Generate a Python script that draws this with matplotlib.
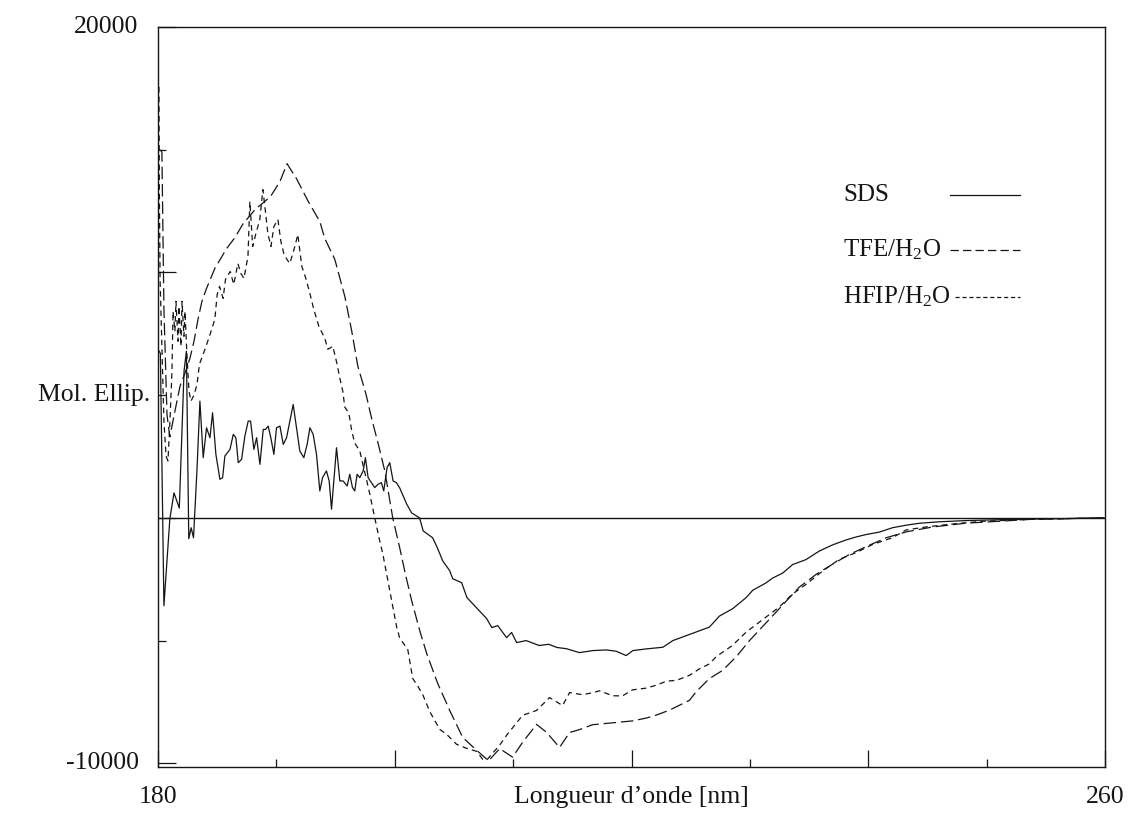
import matplotlib
matplotlib.use('Agg')
import matplotlib.pyplot as plt
from matplotlib.lines import Line2D

plt.rcParams['font.family'] = ['Liberation Serif', 'DejaVu Serif']
plt.rcParams['mathtext.fontset'] = 'custom'
plt.rcParams['mathtext.rm'] = 'Liberation Serif'
plt.rcParams['mathtext.it'] = 'Liberation Serif:italic'
plt.rcParams['mathtext.default'] = 'regular'
plt.rcParams['lines.scale_dashes'] = False

# ---------------- data ----------------
sds_nm = [180.0, 180.2, 180.5, 181.0, 181.35, 181.8, 182.2, 182.4, 182.6, 182.8, 183.0, 183.3,
          183.54, 183.82, 184.10, 184.39, 184.61, 184.89, 185.23, 185.46, 185.65, 186.08, 186.36,
          186.58, 186.78, 187.06, 187.34, 187.62, 187.82, 188.10, 188.33, 188.61, 188.89, 189.08,
          189.31, 189.53, 189.79, 190.01, 190.30, 190.58, 190.86, 191.14, 191.42, 191.70, 191.98,
          192.32, 192.60, 192.83, 193.11, 193.39, 193.67, 193.90, 194.23, 194.46, 194.66, 194.94,
          195.08, 195.36, 195.64, 195.98, 196.20, 196.43, 196.62, 196.82, 197.05, 197.33, 197.52,
          197.75, 198.03, 198.31, 198.59, 198.87, 199.07, 199.35, 199.58, 199.86, 200.14, 200.42,
          201.0, 201.43, 202.1, 202.4, 203.2, 203.6, 204.05, 204.64, 204.9, 205.65, 206.1, 206.9,
          207.76, 208.2, 208.7, 209.45, 209.87, 210.3, 211.1, 212.2, 213.0, 213.7, 214.5, 215.6,
          216.74, 217.86, 218.71, 219.55, 220.11, 221.24, 222.65, 223.49, 224.62, 225.74, 226.58,
          227.43, 228.55, 229.68, 230.24, 231.36, 231.93, 232.77, 233.62, 234.74, 235.87, 236.99,
          238.12, 238.96, 239.81, 240.93, 242.06, 243.18, 244.31, 245.99, 248.24, 251.05, 253.87,
          256.68, 259.92]
sds_val = [6870, 6700, -3580, -40, 1020, 400, 5980, 6790, -850, -400, -810, 2030,
           4756, 2453, 3672, 3266, 4282, 2588, 1572, 1640, 2520, 2791, 3401,
           3266, 2250, 2385, 3333, 3943, 3943, 2791, 3266, 2182, 3604, 3604,
           3740, 3266, 2588, 3672, 3740, 2995, 3266, 3943, 4620, 3672, 2724,
           2453, 2995, 3672, 3401, 2588, 1098, 1640, 1911, 1504, 352, 2046,
           2859, 1504, 1504, 1301, 1775, 1233, 1098, 1775, 1640, 1911, 2453,
           1640, 1436, 1233, 1369, 1436, 1098, 2046, 2250, 1504, 1436, 1220,
           570, 200, 0, -530, -810, -1220, -1750, -2150, -2480, -2640, -3250, -3660,
           -4100, -4470, -4390, -4880, -4670, -5080, -5000, -5200, -5150, -5280, -5330, -5490,
           -5407, -5380, -5434, -5610, -5407, -5339, -5271, -5000, -4797, -4600, -4450,
           -4000, -3700, -3250, -2950, -2650, -2450, -2250, -1900, -1700, -1350, -1100,
           -900, -780, -680, -580, -400, -300, -220, -160, -110, -75, -50,
           -30, 0]

tfe_nm = [180.2, 180.33, 180.5, 180.76, 181.0, 181.43, 181.86, 182.28, 182.7, 183.04, 183.38,
          183.71, 184.1, 184.8, 185.3, 185.8, 186.5, 187.2, 188.2, 189.5, 190.3, 190.9, 191.7,
          192.7, 193.67, 194.09, 194.94, 195.78, 196.37, 196.88, 197.55, 198.06, 198.65, 199.16,
          199.83, 200.42, 200.93, 201.43, 202.11, 202.70, 203.63, 204.64, 205.74, 206.92, 207.93,
          208.86, 209.96, 210.80, 211.98, 212.83, 213.92, 214.77, 215.61, 216.71, 218.40, 220.08,
          221.27, 222.11, 223.21, 224.05, 224.89, 225.49, 226.58, 227.68, 228.86, 229.96, 231.05,
          232.0, 233.08, 234.18, 235.61, 236.96, 238.40, 239.83, 241.52, 243.21, 245.40, 248.27,
          251.05, 253.84, 259.92]
tfe_val = [15000, 14900, 8500, 4200, 3300, 4350, 5366, 5894, 6504, 7195, 8090,
           8821, 9350, 10163, 10569, 10976, 11423, 11992, 12561, 13090, 13700, 14431, 13821,
           12886, 12073, 11382, 10528, 9024, 7602, 6179, 5081, 4024, 2927, 1911,
           0, -1220, -2358, -3374, -4593, -5528, -6747, -7845, -8943, -9472, -9900,
           -9400, -9750, -9142, -8415, -8740, -9354, -8744, -8626, -8427, -8350, -8272,
           -8154, -8033, -7833, -7634, -7435, -7069, -6550, -6219, -5654, -5004, -4439,
           -3950, -3386, -2821, -2297, -1894, -1492, -1171, -809, -569, -374, -215,
           -138, -57, 0]

hfip_nm = [180.08, 180.12, 180.18, 180.34, 180.5, 180.68, 180.84, 181.01, 181.18, 181.27, 181.43,
           181.52, 181.69, 181.77, 181.94, 182.03, 182.19, 182.28, 182.45, 182.62, 182.78, 183.04,
           183.3, 183.5, 184.0, 184.4, 184.8, 185.0, 185.2, 185.5, 185.7, 186.1, 186.4, 186.75,
           187.0, 187.26, 187.6, 187.76, 188.0, 188.27, 188.6, 188.86, 189.03, 189.28, 189.54,
           189.79, 190.13, 190.38, 190.63, 190.89, 191.14, 191.56, 191.81, 192.15, 192.49, 192.83,
           193.16, 193.59, 194.09, 194.35, 194.77, 195.11, 195.36, 195.61, 195.78, 196.12, 196.37,
           196.62, 197.05, 197.30, 197.64, 197.89, 198.31, 198.73, 198.99, 199.58, 200.17, 200.42,
           201.1, 201.52, 201.86, 202.36, 202.95, 203.80, 204.39, 205.23, 206.08, 206.92, 207.43,
           207.8, 208.86, 209.45, 210.80, 211.98, 213.08, 214.18, 214.77, 215.86, 216.71, 217.30,
           218.40, 219.24, 220.08, 221.27, 222.11, 222.95, 223.80, 224.89, 225.74, 226.58, 227.17,
           228.52, 229.70, 231.39, 232.49, 233.59, 234.77, 236.12, 237.55, 238.99, 240.34, 242.03,
           243.21, 244.89, 247.09, 249.62, 253.84, 259.92]
hfip_val = [17560, 12886, 9634, 6789, 3943, 2520, 2317, 3943, 5976, 8415, 7602,
            8821, 7195, 8618, 6992, 8821, 7398, 8415, 6585, 5163, 4756, 5000,
            5447, 6260, 6911, 7480, 8090, 9106, 9430, 8943, 9715, 10040, 9512, 10366,
            9959, 9756, 10650, 12886, 11057, 11585, 12154, 13374, 12683, 11585, 11057,
            11870, 12154, 11260, 10772, 10528, 10366, 11057, 11545, 10244, 9756, 9146,
            8496, 7805, 7317, 6870, 6992, 6301, 5691, 5163, 4512, 4268, 3537,
            3049, 2724, 2195, 1504, 976, 0, -935, -1463, -2967, -4471, -4900,
            -5365, -6545, -6788, -7195, -7886, -8618, -8821, -9228, -9391, -9512, -9837,
            -9850, -9260, -8858, -8045, -7845, -7321, -7646, -7118, -7203, -7126, -7045,
            -7248, -7252, -7008, -6935, -6813, -6654, -6618, -6419, -6150, -5950, -5650,
            -5200, -4650, -4030, -3630, -3106, -2700, -2175, -1690, -1410, -1090, -810,
            -490, -370, -250, -140, -57, 0]

x_major = [180, 200, 220, 240, 260]
x_minor = [190, 210, 230, 250]
x_labels = ['180', '', '', '', '260']
y_major = [-10000, 0, 10000, 20000]
y_minor = [-5000, 5000, 15000]
y_labels = ['-10000', '', '', '20000']

series_labels = ['SDS', 'TFE/H$_2$O', 'HFIP/H$_2$O']

# ---------------- figure ----------------
W, H = 1130, 815
fig = plt.figure(figsize=(W / 100, H / 100), dpi=100)
ax = fig.add_axes([158 / W, 1 - 767 / H, 947 / W, 740 / H])

ink = '#151515'
lw = 0.9
ax.axhline(0, color=ink, lw=1.0, zorder=1)
ax.plot(sds_nm, sds_val, color=ink, lw=lw, ls='-')
ax.plot(tfe_nm, tfe_val, color=ink, lw=lw, ls=(0, (9, 3.5)))
ax.plot(hfip_nm, hfip_val, color=ink, lw=lw, ls=(0, (4, 3)))

ax.set_xlim(180, 260)
ax.set_ylim(-10150, 20000)

for s in ax.spines.values():
    s.set_linewidth(1.0)
    s.set_color(ink)

ax.set_xticks(x_major)
ax.set_xticklabels(x_labels)
ax.set_xticks(x_minor, minor=True)
ax.set_yticks(y_major)
ax.set_yticklabels(y_labels)
ax.set_yticks(y_minor, minor=True)
ax.tick_params(axis='x', which='major', direction='in', length=12.5, width=0.9,
               labelsize=18.5, pad=14, colors=ink)
ax.tick_params(axis='x', which='minor', direction='in', length=6, width=0.9, colors=ink)
ax.tick_params(axis='y', which='major', direction='in', length=13, width=0.9,
               labelsize=18.5, pad=14, colors=ink)
ax.tick_params(axis='y', which='minor', direction='in', length=6, width=0.9, colors=ink)
for lab in ax.get_yticklabels():
    lab.set_va('center')

ax.set_xlabel('Longueur d\u2019onde [nm]', fontsize=18.5, color=ink)
ax.xaxis.set_label_coords(0.5, -0.041)
ax.xaxis.label.set_va('center')
ax.set_ylabel('Mol. Ellip.', fontsize=18.5, rotation=0, color=ink)
ax.yaxis.set_label_coords(-0.127, 0.503)
ax.yaxis.label.set_ha('left')
ax.yaxis.label.set_va('center')

# legend: text on the left, sample line on the right
leg_y = [0.773, 0.6986, 0.6351]
leg_x0 = [0.8363, 0.8363, 0.8420]
leg_styles = ['-', (0, (6, 3)), (0, (3, 2))]
for lab, yy, x0, st in zip(series_labels, leg_y, leg_x0, leg_styles):
    ax.text(0.7233, yy, lab, transform=ax.transAxes, fontsize=18, ha='left', va='center',
            color=ink)
    ax.add_line(Line2D([x0, 0.9102], [yy, yy], transform=ax.transAxes, color=ink,
                       lw=lw, ls=st))

fig.savefig('out.png', dpi=100)
